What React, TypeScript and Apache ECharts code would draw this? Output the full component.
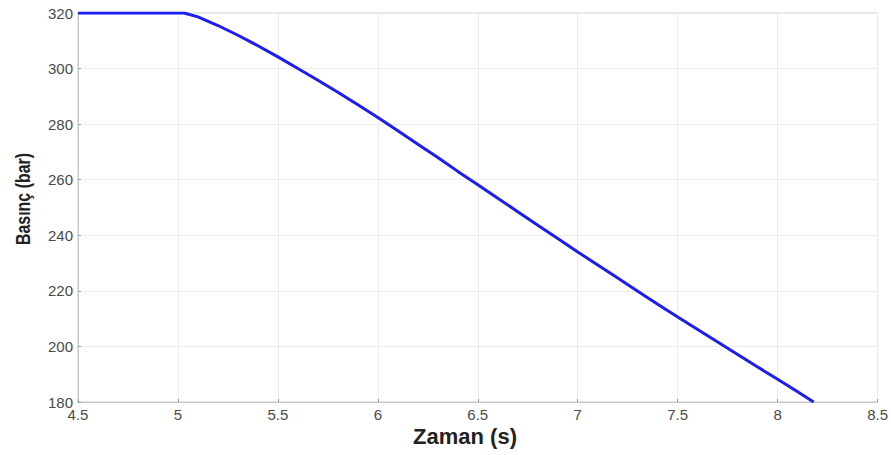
import React, { useEffect, useRef } from "react";
import * as echarts from "echarts";

const timeValues = [4.5, 5.0, 5.03, 5.1, 5.2, 5.3, 5.4, 5.5, 5.6, 5.7, 5.8, 5.9, 6.0, 6.1, 6.2, 6.3, 6.4, 6.5, 6.6, 6.7, 6.8, 6.9, 7.0, 7.1, 7.2, 7.3, 7.4, 7.5, 7.6, 7.7, 7.8, 7.9, 8.0, 8.1, 8.18];
const pressureValues = [320, 320, 320, 318.6, 315.5, 312, 308.2, 304.2, 300, 295.8, 291.5, 287, 282.4, 277.6, 272.8, 268, 263, 258.2, 253.3, 248.5, 243.6, 238.8, 234, 229.3, 224.6, 219.9, 215.2, 210.6, 206.1, 201.6, 197.1, 192.6, 188.2, 183.7, 180];
const xAxisName = "Zaman (s)";
const yAxisName = "Basınç (bar)";

export default function App() {
  const ref = useRef<HTMLDivElement>(null);
  useEffect(() => {
    if (!ref.current) return;
    const chart = echarts.init(ref.current, undefined, { renderer: "svg" });
    const data = timeValues.map((t, i) => [t, pressureValues[i]]);
    const font = "'Liberation Sans', Arial, sans-serif";
    chart.setOption({
      animation: false,
      backgroundColor: "#ffffff",
      grid: {
        left: 78,
        right: 11,
        top: 13,
        bottom: 53,
        show: true,
        borderColor: "#c8c8c8",
        borderWidth: 1,
        backgroundColor: "transparent",
      },
      graphic: [
        {
          type: "text",
          x: 465,
          y: 436,
          style: {
            text: xAxisName,
            fontFamily: font,
            fontSize: 22,
            fontWeight: "bold",
            fill: "#222",
            textAlign: "center",
            textVerticalAlign: "middle",
          },
        },
        {
          type: "text",
          x: 23,
          y: 199,
          rotation: Math.PI / 2,
          scaleX: 0.76,
          style: {
            text: yAxisName,
            fontFamily: font,
            fontSize: 21,
            fontWeight: "bold",
            fill: "#222",
            textAlign: "center",
            textVerticalAlign: "middle",
          },
        },
      ],
      xAxis: {
        type: "value",
        min: 4.5,
        max: 8.5,
        interval: 0.5,
        axisLine: { show: true, lineStyle: { color: "#c8c8c8", width: 1 } },
        axisTick: { show: true, inside: true, length: 3, lineStyle: { color: "#999" } },
        axisLabel: {
          fontFamily: font,
          fontSize: 15,
          color: "#4a4a4a",
          margin: 5,
          formatter: (v: number) => String(v),
        },
        splitLine: { show: true, lineStyle: { color: "#ececec", width: 1 } },
      },
      yAxis: {
        type: "value",
        min: 180,
        max: 320,
        interval: 20,
        axisLine: { show: true, lineStyle: { color: "#c8c8c8", width: 1 } },
        axisTick: { show: true, inside: true, length: 3, lineStyle: { color: "#999" } },
        axisLabel: { fontFamily: font, fontSize: 15, color: "#4a4a4a", margin: 5 },
        splitLine: { show: true, lineStyle: { color: "#ececec", width: 1 } },
      },
      series: [
        {
          type: "line",
          data,
          showSymbol: false,
          smooth: false,
          lineStyle: { color: "#1c1cf5", width: 3 },
        },
      ],
    });
    return () => chart.dispose();
  }, []);
  return (
    <div
      ref={ref}
      style={{ position: "fixed", left: 0, top: 0, width: 891, height: 455, background: "#fff" }}
    />
  );
}
